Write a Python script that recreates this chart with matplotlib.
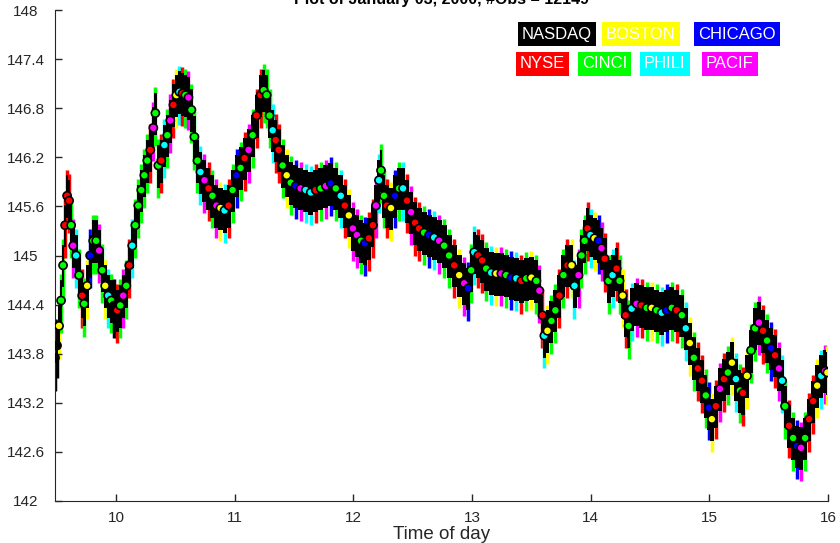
import numpy as np
import matplotlib
matplotlib.use("Agg")
import matplotlib.pyplot as plt

plt.rcParams['font.family'] = ['Liberation Sans', 'DejaVu Sans']

# trades (time of day in hours, price)
times = np.array([
    9.484, 9.501, 9.518, 9.535, 9.552, 9.569, 9.586, 9.603, 9.620, 9.637,
    9.662, 9.687, 9.713, 9.730, 9.755, 9.780, 9.806, 9.831, 9.856, 9.882,
    9.907, 9.932, 9.958, 9.983, 10.008, 10.034, 10.059, 10.085, 10.110, 10.135,
    10.161, 10.186, 10.211, 10.237, 10.262, 10.287, 10.313, 10.330, 10.355, 10.380,
    10.406, 10.431, 10.456, 10.482, 10.507, 10.533, 10.558, 10.583, 10.609, 10.634,
    10.659, 10.685, 10.710, 10.744, 10.778, 10.811, 10.845, 10.879, 10.913, 10.947,
    10.981, 11.014, 11.048, 11.082, 11.116, 11.150, 11.183, 11.217, 11.243, 11.268,
    11.293, 11.319, 11.344, 11.369, 11.403, 11.437, 11.471, 11.513, 11.555, 11.598,
    11.640, 11.682, 11.724, 11.767, 11.809, 11.851, 11.893, 11.927, 11.961, 11.995,
    12.029, 12.063, 12.096, 12.130, 12.164, 12.189, 12.215, 12.232, 12.257, 12.282,
    12.316, 12.350, 12.384, 12.418, 12.451, 12.485, 12.519, 12.553, 12.595, 12.637,
    12.680, 12.722, 12.764, 12.806, 12.849, 12.891, 12.933, 12.967, 12.992, 13.018,
    13.052, 13.085, 13.119, 13.161, 13.204, 13.246, 13.288, 13.331, 13.373, 13.415,
    13.457, 13.500, 13.542, 13.567, 13.593, 13.609, 13.635, 13.669, 13.702, 13.736,
    13.770, 13.804, 13.838, 13.863, 13.897, 13.922, 13.948, 13.973, 13.998, 14.032,
    14.066, 14.091, 14.117, 14.150, 14.184, 14.218, 14.243, 14.269, 14.294, 14.319,
    14.345, 14.387, 14.429, 14.472, 14.514, 14.556, 14.598, 14.641, 14.683, 14.725,
    14.768, 14.801, 14.835, 14.869, 14.903, 14.937, 14.970, 14.996, 15.021, 15.055,
    15.089, 15.123, 15.156, 15.190, 15.224, 15.258, 15.283, 15.317, 15.351, 15.385,
    15.418, 15.452, 15.486, 15.520, 15.554, 15.587, 15.613, 15.638, 15.672, 15.706,
    15.740, 15.773, 15.807, 15.841, 15.875, 15.909, 15.943, 15.976, 15.995,
])

prices = np.array([
    143.75, 143.90, 144.14, 144.45, 144.88, 145.37, 145.73, 145.67, 145.37, 145.12,
    145.00, 144.76, 144.51, 144.41, 144.63, 145.00, 145.18, 145.18, 145.06, 144.82,
    144.63, 144.51, 144.45, 144.39, 144.33, 144.39, 144.51, 144.63, 144.88, 145.12,
    145.37, 145.61, 145.80, 145.98, 146.16, 146.29, 146.56, 146.74, 146.10, 146.16,
    146.35, 146.47, 146.65, 146.84, 146.96, 147.00, 146.98, 146.96, 146.93, 146.78,
    146.45, 146.16, 146.02, 145.92, 145.82, 145.73, 145.61, 145.58, 145.55, 145.61,
    145.80, 145.98, 146.07, 146.19, 146.29, 146.47, 146.71, 146.96, 147.02, 146.96,
    146.71, 146.53, 146.41, 146.29, 146.10, 145.98, 145.89, 145.85, 145.82, 145.80,
    145.77, 145.80, 145.82, 145.85, 145.88, 145.82, 145.73, 145.61, 145.49, 145.33,
    145.25, 145.18, 145.15, 145.21, 145.37, 145.61, 145.92, 146.04, 145.73, 145.61,
    145.58, 145.73, 145.82, 145.82, 145.67, 145.53, 145.40, 145.33, 145.28, 145.25,
    145.22, 145.18, 145.12, 145.00, 144.88, 144.76, 144.66, 144.60, 144.82, 145.04,
    145.00, 144.94, 144.84, 144.79, 144.78, 144.78, 144.76, 144.73, 144.72, 144.69,
    144.72, 144.73, 144.69, 144.57, 144.27, 144.02, 144.08, 144.20, 144.33, 144.51,
    144.76, 144.88, 144.88, 144.63, 144.76, 145.00, 145.18, 145.33, 145.25, 145.21,
    145.18, 145.09, 144.96, 144.69, 144.76, 144.84, 144.69, 144.51, 144.27, 144.14,
    144.35, 144.41, 144.39, 144.36, 144.36, 144.33, 144.30, 144.33, 144.36, 144.33,
    144.27, 144.11, 143.93, 143.75, 143.62, 143.47, 143.29, 143.14, 143.00, 143.16,
    143.37, 143.49, 143.57, 143.69, 143.49, 143.35, 143.32, 143.53, 143.84, 144.11,
    144.18, 144.08, 143.96, 143.87, 143.78, 143.62, 143.47, 143.16, 142.92, 142.77,
    142.67, 142.65, 142.77, 143.00, 143.22, 143.41, 143.53, 143.59, 143.57,
])

# exchange of each trade
# K=NASDAQ Y=BOSTON B=CHICAGO R=NYSE G=CINCI C=PHILI M=PACIF
codes = list(
    "KKYGGRRRGM" "CGRGYBGGMG" "YCGKRGMGRC" "GGGGGRMGGR" "CGMRYCRGMG"
    "GGCMRGMYCR" "GBGRMGRRGG" "GCRRGYGBMC" "CRGMBGCRYM" "MGBRRMCGGR"
    "YBGCRMRRGB" "CMGGRYMBGC" "RRGCYMGBCR" "GYGMRCYGGR" "GRYCMGGRCY"
    "BMRGCRGYRG" "CMRGYGCBGR" "GCYGRRGBYR" "MRGYCGRYGG" "MRGBRMCGRG"
    "BMGRRYCMY"
)

# quote ranges around the trades
spread_up = 0.25
spread_dn = 0.27
quote_below = 0.40
quote_above = 0.32

exchanges = ['NASDAQ', 'BOSTON', 'CHICAGO', 'NYSE', 'CINCI', 'PHILI', 'PACIF']
ex_colors = ['#000000', '#ffff00', '#0000ff', '#ff0000', '#00ff00', '#00ffff', '#ff00ff']
code_color = dict(zip("KYBRGCM", ex_colors))
colors = [code_color[c] for c in codes]

fig = plt.figure(figsize=(8.4, 5.43), dpi=100)
ax = fig.add_axes([55 / 840, 42 / 543, 773 / 840, 491 / 543])

# quotes of the regional exchanges
ax.vlines(times, prices - quote_below, prices + quote_above, colors=colors, lw=2.5, zorder=1)
# NASDAQ quotes
ax.fill_between(times, prices - spread_dn, prices + spread_up, step='mid',
                color='k', lw=0, zorder=2)
# trades
ax.scatter(times, prices, s=34, c=colors, edgecolors='k', linewidths=1.2, zorder=3)

ax.set_xlim(9.484, 16)
ax.set_ylim(142, 148)
ax.set_xticks([10, 11, 12, 13, 14, 15, 16])
ax.set_yticks([142, 142.6, 143.2, 143.8, 144.4, 145, 145.6, 146.2, 146.8, 147.4, 148])
ax.set_yticklabels(['142', '142.6', '143.2', '143.8', '144.4', '145', '145.6',
                    '146.2', '146.8', '147.4', '148'])
ax.tick_params(direction='in', length=5, width=1, labelsize=11, colors='#262626')
ax.tick_params(axis='x', pad=7)
ax.tick_params(axis='y', pad=21)
for lab in ax.get_yticklabels():
    lab.set_horizontalalignment('center')
ax.spines['top'].set_visible(False)
ax.spines['right'].set_visible(False)
for s in ['left', 'bottom']:
    ax.spines[s].set_color('#262626')
ax.set_xlabel('Time of day', fontsize=13.5, color='#262626', labelpad=1)

fig.text(441 / 840, 0.992, 'Plot of January 03, 2000, #Obs = 12149',
         ha='center', va='baseline', fontsize=11.5, fontweight='bold')

# exchange key as coloured boxes
key_pos = [(522, 34), (606, 34), (698, 34), (520, 64), (582, 64), (644, 64), (706, 64)]
for name, col, (px, py) in zip(exchanges, ex_colors, key_pos):
    fig.text(px / 840, 1 - py / 543, name, ha='left', va='center', fontsize=12,
             color='white', bbox=dict(boxstyle='square,pad=0.25', fc=col, ec='none'))

fig.savefig('out.png', dpi=100)
